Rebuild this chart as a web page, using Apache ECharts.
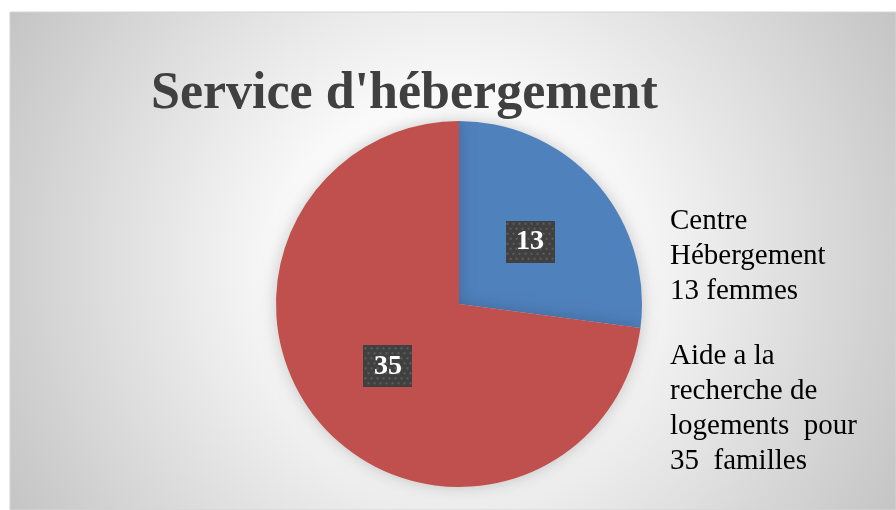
<!DOCTYPE html>
<html>
<head>
<meta charset="UTF-8">
<title>Service d'hébergement</title>
<style>
  html, body { margin: 0; padding: 0; background: #fff; }
  #main { width: 896px; height: 510px; }
</style>
</head>
<body>
<div id="main"></div>
<script src="https://cdn.jsdelivr.net/npm/echarts@6/dist/echarts.min.js"></script>
<script>
// données
var categories = ['Centre\nHébergement\n13 femmes', 'Aide a la\nrecherche de\nlogements  pour\n35  familles'];
var values = [13, 35];
var colors = ['#4F81BD', '#C0504D'];

// fond pointillé des étiquettes
function dotBox(w, h) {
  var c = document.createElement('canvas');
  c.width = w; c.height = h;
  var g = c.getContext('2d');
  g.fillStyle = '#404040';
  g.fillRect(0, 0, w, h);
  g.fillStyle = '#5e5e5e';
  var row = 0;
  for (var y = 2; y < h; y += 5, row++) {
    for (var x = row % 2 ? 4 : 1; x < w; x += 6) {
      g.fillRect(x, y, 2, 2);
    }
  }
  return c;
}
var labelBg = dotBox(49, 42);

var chart = echarts.init(document.getElementById('main'));
var option = {
  backgroundColor: '#ffffff',
  graphic: [{
    type: 'rect',
    silent: true,
    z: -10,
    shape: { x: 10, y: 12, width: 886, height: 498 },
    style: {
      fill: {
        type: 'radial', x: 0.5, y: 0.5, r: 1.05,
        colorStops: [
          { offset: 0, color: '#ffffff' },
          { offset: 0.3, color: '#fbfbfb' },
          { offset: 1, color: '#c2c2c2' }
        ]
      },
      stroke: '#d4d4d4',
      lineWidth: 1
    }
  }],
  title: {
    text: "Service d'hébergement",
    left: 146,
    top: 64,
    textStyle: {
      fontFamily: 'Liberation Serif',
      fontSize: 52,
      fontWeight: 'bold',
      color: '#404040'
    }
  },
  legend: {
    orient: 'vertical',
    left: 660,
    top: 199,
    itemWidth: 0,
    itemHeight: 0,
    itemGap: 30,
    selectedMode: false,
    data: categories,
    textStyle: {
      fontFamily: 'Liberation Serif',
      fontSize: 29,
      lineHeight: 35,
      color: '#000'
    }
  },
  series: [{
    type: 'pie',
    center: [459, 304],
    radius: [0, 183],
    startAngle: 90,
    clockwise: true,
    silent: true,
    color: colors,
    itemStyle: {
      shadowBlur: 16,
      shadowColor: 'rgba(0,0,0,0.2)'
    },
    label: {
      show: true,
      position: 'inside',
      formatter: '{c}',
      fontFamily: 'Liberation Serif',
      fontSize: 28,
      fontWeight: 'bold',
      color: '#fff',
      width: 49,
      height: 42,
      lineHeight: 42,
      align: 'center',
      backgroundColor: { image: labelBg },
      shadowBlur: 6,
      shadowOffsetX: 3,
      shadowOffsetY: 3,
      shadowColor: 'rgba(0,0,0,0.45)'
    },
    labelLine: { show: false },
    data: categories.map(function (name, i) {
      return { name: name, value: values[i] };
    })
  }]
};
chart.setOption(option);
</script>
</body>
</html>
